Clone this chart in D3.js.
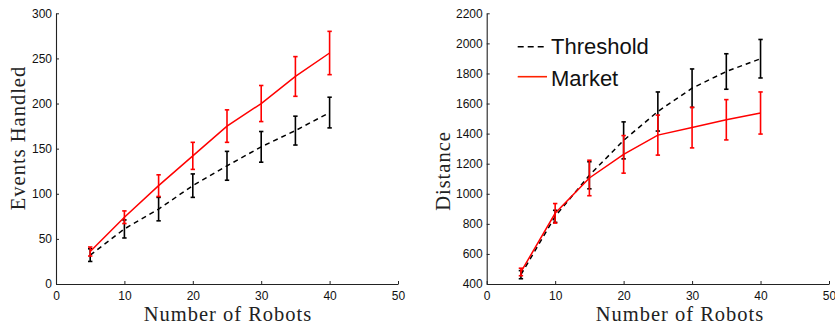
<!DOCTYPE html>
<html><head><meta charset="utf-8">
<script src="https://cdn.jsdelivr.net/npm/d3@7"></script>
<style>body{margin:0;background:#fff}svg{display:block}</style>
</head><body>
<svg id="c" width="835" height="327"></svg>
<script>
const robots = [5, 10, 15, 20, 25, 30, 35, 40];
const eventsThreshold = [32, 61, 83, 109, 131, 152, 170, 190];
const eventsThresholdErr = [7, 10, 13, 13, 16, 17, 16, 17];
const eventsMarket = [36, 74, 109, 142, 175, 200, 230, 256];
const eventsMarketErr = [5, 7, 12, 15, 18, 20, 22, 24];
const distThreshold = [462, 850, 1123, 1355, 1547, 1702, 1813, 1898];
const distThresholdErr = [27, 40, 90, 123, 130, 128, 118, 128];
const distMarket = [480, 870, 1105, 1262, 1390, 1440, 1492, 1537];
const distMarketErr = [25, 65, 118, 125, 133, 135, 134, 140];
const xTicks = [0, 10, 20, 30, 40, 50];
const eventsTicks = [0, 50, 100, 150, 200, 250, 300];
const distTicks = [400, 600, 800, 1000, 1200, 1400, 1600, 1800, 2000, 2200];
const seriesNames = ["Threshold", "Market"];

const svg = d3.select("#c");
const tickFont = "Liberation Sans, Arial, sans-serif";
const labelFont = "Liberation Serif, Times New Roman, serif";

function panel(cfg) {
  const x = d3.scaleLinear().domain([0, 50]).range(cfg.xr);
  const y = d3.scaleLinear().domain(cfg.yd).range([284, 13.3]);
  const g = svg.append("g");
  const xa = g.append("g").attr("transform", `translate(0,${y.range()[0]})`)
    .call(d3.axisBottom(x).tickValues(xTicks).tickFormat(d3.format("d")).tickSizeInner(-3).tickSizeOuter(0).tickPadding(7));
  const ya = g.append("g").attr("transform", `translate(${x.range()[0]},0)`)
    .call(d3.axisLeft(y).tickValues(cfg.yt).tickFormat(d3.format("d")).tickSizeInner(-3).tickSizeOuter(0).tickPadding(4));
  [xa, ya].forEach(a => {
    a.select(".domain").attr("stroke", "#222").attr("stroke-width", 1.1);
    a.selectAll(".tick line").attr("stroke", "#222");
    a.selectAll("text").attr("font-family", tickFont).attr("font-size", "12px").attr("fill", "#111");
  });
  xa.selectAll("text").attr("dy", "0.71em");
  const series = [
    {v: cfg.thr, e: cfg.thrE, c: "#000", dash: "5,4"},
    {v: cfg.mkt, e: cfg.mktE, c: "red", dash: null}
  ];
  series.forEach(s => {
    const line = d3.line().x((d, i) => x(robots[i])).y(d => y(d));
    g.append("path").datum(s.v).attr("d", line).attr("fill", "none")
      .attr("stroke", s.c).attr("stroke-width", 1.5).attr("stroke-dasharray", s.dash);
    const eb = g.append("g").attr("stroke", s.c).attr("stroke-width", 1.6).attr("fill", "none");
    s.v.forEach((v, i) => {
      const cx = x(robots[i]), y0 = y(v - s.e[i]), y1 = y(v + s.e[i]);
      eb.append("line").attr("x1", cx).attr("x2", cx).attr("y1", y0).attr("y2", y1);
      eb.append("line").attr("x1", cx - 2.2).attr("x2", cx + 2.2).attr("y1", y0).attr("y2", y0);
      eb.append("line").attr("x1", cx - 2.2).attr("x2", cx + 2.2).attr("y1", y1).attr("y2", y1);
    });
  });
  g.append("text").attr("x", cfg.xlx).attr("y", 321).attr("text-anchor", "middle")
    .attr("font-family", labelFont).attr("font-size", "20.5px").attr("letter-spacing", "1px")
    .attr("fill", "#222").text("Number of Robots");
  g.append("text").attr("transform", `translate(${cfg.ylx},${cfg.ylc}) rotate(-90)`)
    .attr("text-anchor", "middle")
    .attr("font-family", labelFont).attr("font-size", "20.5px").attr("letter-spacing", "1px")
    .attr("fill", "#222").text(cfg.ylabel);
  return {x, y, g};
}

panel({xr: [56, 398], yd: [0, 300], yt: eventsTicks, thr: eventsThreshold, thrE: eventsThresholdErr,
  mkt: eventsMarket, mktE: eventsMarketErr, xlx: 228, ylx: 25, ylc: 138, ylabel: "Events Handled"});
panel({xr: [486.7, 829], yd: [400, 2200], yt: distTicks, thr: distThreshold, thrE: distThresholdErr,
  mkt: distMarket, mktE: distMarketErr, xlx: 680, ylx: 450, ylc: 171, ylabel: "Distance"});

// legend
const leg = svg.append("g");
const legItems = [
  {name: seriesNames[0], c: "#000", dash: "6,4", y: 46.7, ty: 54.3},
  {name: seriesNames[1], c: "#ff2200", dash: null, y: 76.7, ty: 85.5}
];
legItems.forEach(it => {
  leg.append("line").attr("x1", 517.7).attr("x2", 547).attr("y1", it.y).attr("y2", it.y)
    .attr("stroke", it.c).attr("stroke-width", 1.6).attr("stroke-dasharray", it.dash);
  leg.append("text").attr("x", 551).attr("y", it.ty).attr("font-family", tickFont)
    .attr("font-size", "22px").attr("fill", "#111").text(it.name);
});
</script>
</body></html>
